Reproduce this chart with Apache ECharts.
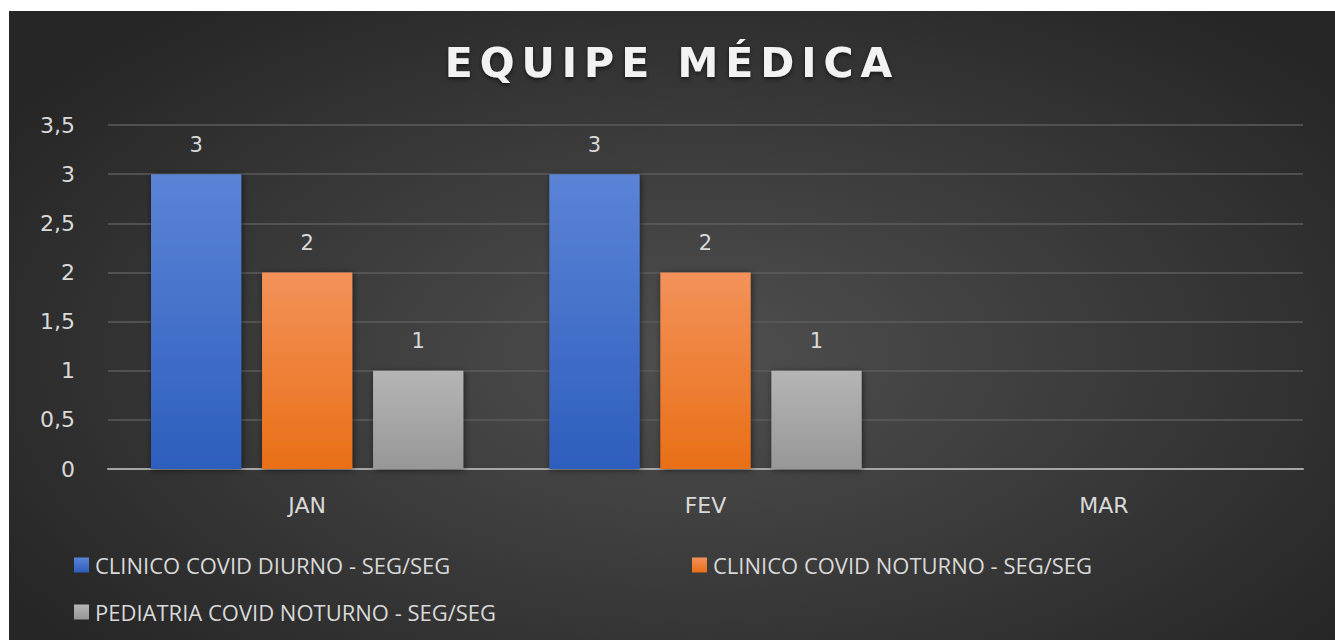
<!DOCTYPE html>
<html><head><meta charset="utf-8">
<script src="https://cdn.jsdelivr.net/npm/echarts@6/dist/echarts.min.js"></script>
<style>
html,body{margin:0;padding:0;background:#fff;width:1335px;height:640px;overflow:hidden}
#chart{position:absolute;left:9px;top:11px;width:1326px;height:629px;
background:radial-gradient(ellipse 62% 70% at 52% 55%, #4f4f4f 0%, #3d3d3d 45%, #262626 100%);}
#chart text[style*="41px"]{letter-spacing:7px}
</style>
</head><body>
<div id="chart"></div>
<script>
var categories = ['JAN', 'FEV', 'MAR'];
var seriesNames = ['CLINICO COVID DIURNO - SEG/SEG', 'CLINICO COVID NOTURNO - SEG/SEG', 'PEDIATRIA COVID NOTURNO - SEG/SEG'];
var diurno = [3, 3, null];
var noturno = [2, 2, null];
var pediatria = [1, 1, null];
var yTicks = { min: 0, max: 3.5, interval: 0.5 };

var FONT = '"Open Sans", sans-serif';
var NUMFONT = '"DejaVu Sans", sans-serif';
var TXT = '#d9d9d9';
function grad(top, bottom) {
  return new echarts.graphic.LinearGradient(0, 0, 0, 1, [{offset: 0, color: top}, {offset: 1, color: bottom}]);
}
var colors = [grad('#5b84d6', '#2e5ebd'), grad('#f3925a', '#e96f16'), grad('#b5b5b5', '#979797')];
var values = [diurno, noturno, pediatria];

var chart = echarts.init(document.getElementById('chart'), null, {renderer: 'svg'});
var legendBase = {
  icon: 'rect', itemWidth: 15, itemHeight: 15, itemGap: 0, padding: 0,
  textStyle: {color: TXT, fontSize: 22, fontFamily: FONT, padding: [0, 0, 0, 1]},
  selectedMode: false
};
chart.setOption({
  backgroundColor: 'transparent',
  animation: false,
  title: {
    text: 'EQUIPE MÉDICA', left: 'center', top: 26,
    textStyle: {color: '#f2f2f2', fontSize: 41, fontWeight: 'bold', fontFamily: NUMFONT,
      textShadowColor: 'rgba(0,0,0,0.6)', textShadowBlur: 4, textShadowOffsetY: 2}
  },
  legend: [
    Object.assign({}, legendBase, {data: [seriesNames[0]], left: 65, top: 543}),
    Object.assign({}, legendBase, {data: [seriesNames[1]], left: 683, top: 543}),
    Object.assign({}, legendBase, {data: [seriesNames[2]], left: 65, top: 590})
  ],
  grid: {left: 99, right: 32, top: 114, bottom: 171, containLabel: false},
  xAxis: {
    type: 'category', data: categories,
    axisLine: {lineStyle: {color: '#a6a6a6', width: 2}},
    axisTick: {show: false},
    axisLabel: {color: TXT, fontSize: 22, fontFamily: NUMFONT, margin: 25}
  },
  yAxis: {
    type: 'value', min: yTicks.min, max: yTicks.max, interval: yTicks.interval,
    axisLine: {show: false}, axisTick: {show: false},
    splitLine: {lineStyle: {color: '#5c5c5c', width: 1.5}},
    axisLabel: {color: TXT, fontSize: 22, fontFamily: NUMFONT, margin: 33,
      formatter: function (v) { return String(v).replace('.', ','); }}
  },
  series: values.map(function (d, i) {
    return {
      name: seriesNames[i], type: 'bar', data: d,
      barGap: '23%', barCategoryGap: '21.6%',
      itemStyle: {color: colors[i], shadowColor: 'rgba(0,0,0,0.55)', shadowBlur: 6, shadowOffsetX: 1, shadowOffsetY: 1},
      label: {show: true, position: 'top', distance: 19, color: TXT, fontSize: 21, fontFamily: NUMFONT}
    };
  })
});
</script>
</body></html>
